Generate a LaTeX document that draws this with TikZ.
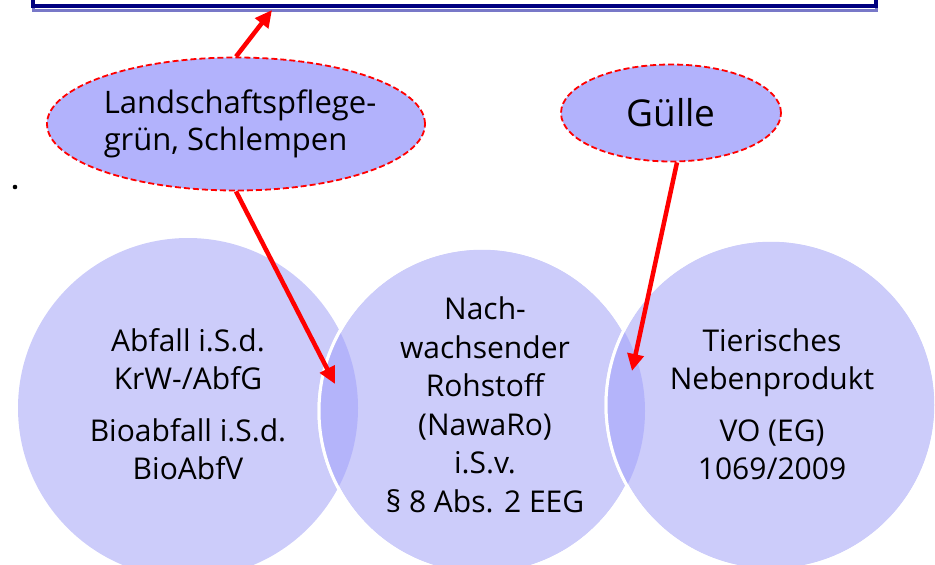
\documentclass[tikz,border=0pt]{standalone}
\usepackage{fontspec}
\setmainfont{Open Sans}
\usetikzlibrary{shapes.geometric,arrows.meta}
\definecolor{circ}{RGB}{204,204,250}
\definecolor{lens}{RGB}{180,180,250}
\definecolor{ellf}{RGB}{178,178,252}
\definecolor{navy}{RGB}{0,0,128}
\definecolor{navysh}{RGB}{120,120,200}
\tikzset{
  bigcirc/.style={circle, inner sep=0pt, fill=circ},
  circtext/.style={align=center, font=\fontsize{30}{38.5}\selectfont, text=black},
  oval/.style={ellipse, inner sep=0pt, fill=ellf, draw=red, dash pattern=on 6pt off 3pt, line width=1.8pt},
  redarrow/.style={draw=red, line width=4.5pt, -{Triangle[length=17pt,width=16pt]}},
}
\begin{document}
\begin{tikzpicture}[x=1pt,y=-1pt]
\useasboundingbox (0,0) rectangle (935,565);
\clip (0,0) rectangle (935,565);
% top box
\draw[navysh, line width=3pt] (33,-30) rectangle (876,10.5);
\node[draw=navy, line width=4pt, minimum width=843pt, minimum height=60pt, anchor=south west, inner sep=0pt] (box) at (31,8) {};
% circles
\node[bigcirc, minimum size=340pt] (L) at (188,408) {};
\node[bigcirc, minimum size=326pt, draw=white, line width=3pt] (M) at (482,411) {};
\begin{scope}
  \clip (482,411) circle (163);
  \fill[lens] (188,408) circle (170);
\end{scope}
\draw[white, line width=3pt] (482,411) circle (163);
\node[bigcirc, minimum size=330pt, draw=white, line width=3pt] (R) at (771,405) {};
\begin{scope}
  \clip (771,405) circle (165);
  \fill[lens] (482,411) circle (163);
\end{scope}
\draw[white, line width=3pt] (771,405) circle (165);
% circle texts
\node[circtext] (Lt) at (188,404) {Abfall i.S.d.\\KrW-/AbfG\\[13pt]Bioabfall i.S.d.\\BioAbfV};
\node[circtext] (Mt) at (485,405) {Nach-\\wachsender\\Rohstoff\\(NawaRo)\\i.S.v.\\\S\ 8 Abs. 2 EEG};
\node[circtext] (Rt) at (772,404) {Tierisches\\Nebenprodukt\\[13pt]VO (EG)\\1069/2009};
% ellipses
\node[oval, minimum width=378pt, minimum height=133pt] (E1) at (236,124) {};
\node[align=left, font=\fontsize{31}{37}\selectfont, inner sep=0pt] (E1t) at (240,124) {Landschaftspflege-\\grün, Schlempen};
\node[oval, minimum width=220pt, minimum height=97pt] (G) at (671,113) {};
\node[font=\fontsize{37}{44}\selectfont, inner sep=0pt] (Gt) at (671,113) {Gülle};
% dot
\fill (15,187) circle (2.3);
% arrows
\coordinate (a1) at (272,10);
\coordinate (a2) at (335,384);
\coordinate (a3) at (632,371);
\draw[redarrow] (E1.north) -- (a1);
\draw[redarrow] (E1.south) -- (a2);
\draw[redarrow] (G.south) ++(6,0) coordinate (gs) (gs) -- (a3);
\end{tikzpicture}
\end{document}
